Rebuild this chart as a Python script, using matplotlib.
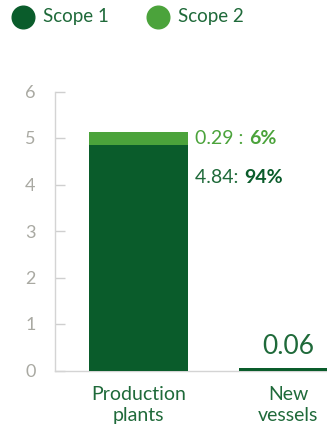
import matplotlib.pyplot as plt
from matplotlib.lines import Line2D

plt.rcParams['font.family'] = ['Lato', 'DejaVu Sans']

# data
categories = ['Production\nplants', 'New\nvessels']
series = ['Scope 1', 'Scope 2']
scope1 = [4.84, 0.06]
scope2 = [0.29, 0.0]
y_ticks = [0, 1, 2, 3, 4, 5, 6]

dark = '#0a5c2b'
light = '#4ba33b'
text_dark = '#1f6a3a'
grey = '#a9a9a2'

W, H = 327, 428
fig = plt.figure(figsize=(W / 100, H / 100), dpi=100)
ax = fig.add_axes([55 / W, 57.5 / H, 272 / W, 279 / H])

x = [0, 1]
ax.bar(x, scope1, width=0.66, color=dark, zorder=3)
ax.bar(x, scope2, width=0.66, bottom=scope1, color=light, zorder=3)

ax.set_xlim(-0.557, 1.257)
ax.set_ylim(0, 6)
ax.set_yticks(y_ticks)
ax.tick_params(axis='y', direction='in', length=7, width=1, color='#cfcfcf',
               labelsize=13, labelcolor=grey, pad=14)
ax.set_xticks(x)
ax.set_xticklabels(categories, fontsize=14, color=text_dark, linespacing=1.3)
ax.tick_params(axis='x', length=0, pad=11)
for s in ['top', 'right']:
    ax.spines[s].set_visible(False)
for s in ['left', 'bottom']:
    ax.spines[s].set_color('#d4d4d4')
    ax.spines[s].set_linewidth(1)

# value labels: plain value then bold share
def value_label(xpos, ypos, head, tail, c_head, c_tail):
    t1 = ax.text(xpos, ypos, head, color=c_head, fontsize=14, va='center', ha='left')
    fig.canvas.draw()
    x_end = ax.transData.inverted().transform((t1.get_window_extent().x1, 0))[0]
    ax.text(x_end, ypos, tail, color=c_tail, fontsize=14, fontweight='bold',
            va='center', ha='left')

total = scope1[0] + scope2[0]
lx = 0.33 + 0.05
value_label(lx, 5.0, f'{scope2[0]:.2f} : ', f'{scope2[0] / total * 100:.0f}%', light, light)
value_label(lx, 4.15, f'{scope1[0]:.2f}: ', f'{scope1[0] / total * 100:.0f}%', text_dark, dark)

ax.text(1, 0.52, f'{scope1[1]:.2f}', color=text_dark, fontsize=19,
        ha='center', va='center')

# legend
for i, (name, col) in enumerate(zip(series, [dark, light])):
    cx = (23 + 135 * i) / W
    cy = 1 - 16.5 / H
    fig.add_artist(Line2D([cx], [cy], marker='o', ls='', markersize=16.3, color=col,
                          transform=fig.transFigure))
    fig.text(cx + 20 / W, cy, name, color=text_dark, fontsize=13.5, va='center', ha='left')

fig.savefig('out.png', dpi=100)
